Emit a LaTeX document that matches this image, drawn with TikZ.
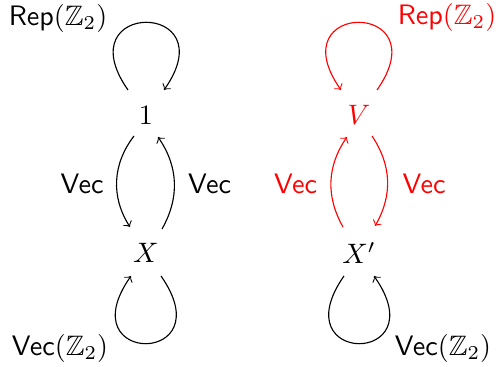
\documentclass[tikz,border=0pt]{standalone}
\usepackage{amssymb}
\begin{document}
\begin{tikzpicture}[x=0.0125cm,y=-0.0125cm,
  obj/.style={inner sep=0pt},
  arr/.style={->},
  lbl/.style={inner sep=0pt}]
\useasboundingbox (0,0) rectangle (496,367);
% objects
\node[obj] (n1) at (146,115) {$1$};
\node[obj] (nx) at (146,253) {$X$};
\node[obj,red] (nv) at (359,115) {$V$};
\node[obj] (nxp) at (359,253) {$X'$};
% labels
\node[lbl] (rep1) at (58,18) {\textsf{Rep}$(\mathbb{Z}_2)$};
\node[lbl,red] (rep2) at (447,17) {\textsf{Rep}$(\mathbb{Z}_2)$};
\node[lbl] (vecz1) at (60,348) {\textsf{Vec}$(\mathbb{Z}_2)$};
\node[lbl] (vecz2) at (443,348) {\textsf{Vec}$(\mathbb{Z}_2)$};
\node[lbl] (vec1) at (82,184) {\textsf{Vec}};
\node[lbl] (vec2) at (209.5,184) {\textsf{Vec}};
\node[lbl,red] (vec3) at (295.5,184) {\textsf{Vec}};
\node[lbl,red] (vec4) at (424,184) {\textsf{Vec}};
% loops
\draw[arr] ([shift={(-18,-25)}]n1.center) .. controls +(-63.1,-90.1) and +(63.1,-90.1) .. ([shift={(18,-25)}]n1.center);
\draw[arr,red] ([shift={(18,-25)}]nv.center) .. controls +(63.1,-90.1) and +(-63.1,-90.1) .. ([shift={(-18,-25)}]nv.center);
\draw[arr] ([shift={(15,23)}]nx.center) .. controls +(63.1,90.1) and +(-63.1,90.1) .. ([shift={(-15,23)}]nx.center);
\draw[arr] ([shift={(-15,23)}]nxp.center) .. controls +(-63.1,90.1) and +(63.1,90.1) .. ([shift={(15,23)}]nxp.center);
% edges
\draw[arr] ([shift={(-12,21)}]n1.center) to[bend right=35] ([shift={(-16,-26)}]nx.center);
\draw[arr] ([shift={(16,-24)}]nx.center) to[bend right=32] ([shift={(12,22)}]n1.center);
\draw[arr,red] ([shift={(-16,-26)}]nxp.center) to[bend left=32] ([shift={(-12,22)}]nv.center);
\draw[arr,red] ([shift={(13,21)}]nv.center) to[bend left=32] ([shift={(16,-27)}]nxp.center);
\end{tikzpicture}
\end{document}
